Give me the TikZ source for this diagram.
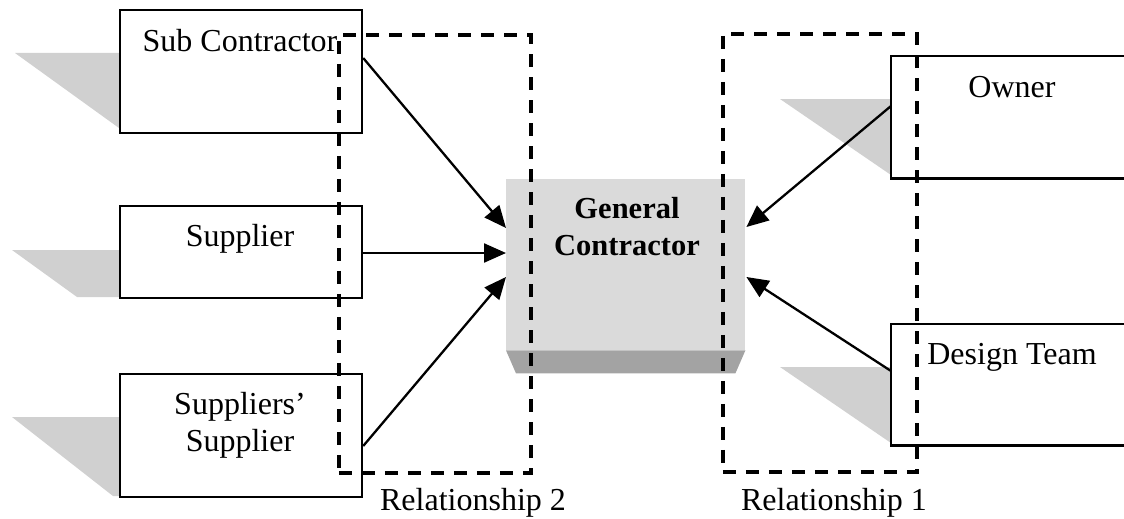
\documentclass[tikz,border=0pt]{standalone}
\usepackage{fontspec}
\setmainfont{Liberation Serif}
\usetikzlibrary{arrows.meta,calc}
\definecolor{dropshade}{RGB}{208,208,208}
\definecolor{gcface}{RGB}{218,218,218}
\definecolor{gcbase}{RGB}{163,163,163}
\begin{document}
\begin{tikzpicture}[x=1pt,y=-1pt,
  party/.style={draw=black,line width=2.2pt,fill=white,rectangle,inner sep=0pt,anchor=north west},
  partyopen/.style={fill=white,rectangle,inner sep=0pt,anchor=north west},
  boxline/.style={draw=black,line width=2.2pt},
  lbl/.style={anchor=base,inner sep=0pt,font=\fontsize{32}{37}\selectfont},
  gclbl/.style={inner sep=0pt,align=center,font=\fontsize{30.5}{37}\selectfont\bfseries},
  relbox/.style={draw=black,line width=3.6pt,dash pattern=on 13pt off 10pt,rectangle,inner sep=0pt,anchor=north west},
  flow/.style={draw=black,line width=2.3pt,-{Triangle[length=22pt,width=19pt]}}
]
\useasboundingbox (0,0) rectangle (1124,519);

% drop shadows behind the party boxes
\fill[dropshade] (15,53) -- (119,53) -- (119,128) -- cycle;
\fill[dropshade] (12,250) -- (119,250) -- (119,297) -- (77,297) -- cycle;
\fill[dropshade] (12,417) -- (119,417) -- (119,496) -- (113,496) -- cycle;
\fill[dropshade] (780,99) -- (891,99) -- (891,175) -- cycle;
\fill[dropshade] (780,367) -- (891,367) -- (891,443) -- cycle;

% left parties
\node[party,minimum width=242pt,minimum height=123pt] (sub) at (119,9) {};
\node[party,minimum width=242pt,minimum height=92pt] (sup) at (119,205) {};
\node[party,minimum width=242pt,minimum height=123pt] (ss) at (119,373) {};
\node[lbl] (sub-t) at (240,52) {Sub Contractor};
\node[lbl] (sup-t) at (240,246) {Supplier};
\node[lbl] (ss-t1) at (240,414) {Suppliers’};
\node[lbl] (ss-t2) at (240,451) {Supplier};

% right parties (running off the right edge)
\node[partyopen,minimum width=233pt,minimum height=122pt] (own) at (891,56) {};
\draw[boxline] (own.north east) -- (own.north west) -- (own.south west) -- (own.south east);
\node[partyopen,minimum width=233pt,minimum height=121pt] (des) at (891,324) {};
\draw[boxline] (des.north east) -- (des.north west) -- (des.south west) -- (des.south east);
\node[lbl] (own-t) at (1012,97) {Owner};
\node[lbl] (des-t) at (1012,364) {Design Team};

% general contractor block
\node[fill=gcface,rectangle,inner sep=0pt,anchor=north west,minimum width=239pt,minimum height=171pt] (gc) at (506,179) {};
\fill[gcbase] (gc.south west) -- (gc.south east) -- ($(gc.south east)+(-10,23)$) -- ($(gc.south west)+(10,23)$) -- cycle;
\node[gclbl,anchor=north] (gc-t) at (627,197) {General\\Contractor};

% relationship frames
\node[relbox,minimum width=192pt,minimum height=438pt] (rel2) at (337,33) {};
\node[relbox,minimum width=194pt,minimum height=438pt] (rel1) at (721,32) {};
\node[lbl] (rel2-t) at (473,510) {Relationship 2};
\node[lbl] (rel1-t) at (834,510) {Relationship 1};

% flows into the general contractor
\draw[flow] ($(sub.north east)+(0,49)$) -- ($(gc.north west)+(0,49)$);
\draw[flow] ($(sup.north east)+(0,48)$) -- ($(gc.north west)+(0,74)$);
\draw[flow] ($(ss.north east)+(0,73)$) -- ($(gc.north west)+(0,98)$);
\draw[flow] ($(own.north west)+(0,50)$) -- ($(gc.north east)+(1,48)$);
\draw[flow] ($(des.north west)+(0,47)$) -- ($(gc.north east)+(1,98)$);
\end{tikzpicture}
\end{document}
